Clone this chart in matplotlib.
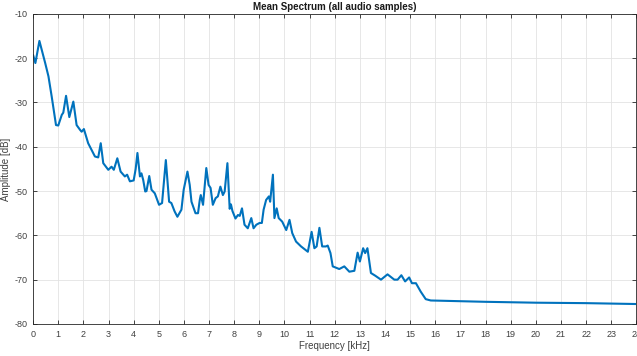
import matplotlib.pyplot as plt

# mean spectrum
freq_khz = [0.0, 0.09, 0.25, 0.48, 0.61, 0.74, 0.91, 1.0, 1.14, 1.2,
            1.31, 1.44, 1.6, 1.73, 1.87, 1.93, 2.02, 2.19, 2.46, 2.59,
            2.69, 2.79, 2.99, 3.12, 3.21, 3.35, 3.48, 3.65, 3.74, 3.85,
            4.0, 4.08, 4.15, 4.25, 4.31, 4.38, 4.46, 4.51, 4.62, 4.71,
            4.84, 4.91, 5.01, 5.13, 5.28, 5.41, 5.5, 5.63, 5.74, 5.9,
            5.99, 6.14, 6.23, 6.3, 6.46, 6.56, 6.63, 6.67, 6.76, 6.89,
            6.98, 7.06, 7.15, 7.26, 7.35, 7.45, 7.55, 7.62, 7.73, 7.82,
            7.87, 7.93, 8.05, 8.15, 8.22, 8.31, 8.41, 8.54, 8.68, 8.77,
            8.88, 9.01, 9.1, 9.17, 9.27, 9.38, 9.43, 9.54, 9.6, 9.69,
            9.77, 9.91, 10.07, 10.2, 10.31, 10.46, 10.66, 10.93, 11.08, 11.19,
            11.28, 11.39, 11.5, 11.65, 11.72, 11.83, 11.92, 12.18, 12.38, 12.58,
            12.78, 12.91, 13.0, 13.13, 13.21, 13.3, 13.44, 13.61, 13.84, 14.1,
            14.37, 14.5, 14.65, 14.8, 14.96, 15.07, 15.23, 15.42, 15.62, 15.82,
            16.5, 18.0, 20.0, 22.0, 24.0]
amp_db = [-19.3, -21.1, -16.1, -21.1, -24.1, -28.7, -35.1, -35.2, -32.8, -32.3,
          -28.5, -33.3, -29.8, -35.1, -36.2, -36.6, -36.0, -39.2, -42.2, -42.4,
          -39.2, -43.7, -45.2, -44.5, -45.2, -42.6, -45.6, -46.7, -46.3, -47.8,
          -47.6, -45.0, -41.4, -46.7, -46.0, -47.5, -50.1, -50.0, -46.6, -49.7,
          -50.5, -51.6, -53.1, -52.7, -43.0, -52.4, -52.7, -54.6, -55.8, -54.2,
          -49.7, -45.6, -48.6, -52.4, -55.0, -55.0, -52.0, -50.9, -53.1, -44.8,
          -48.6, -49.3, -53.1, -51.6, -51.2, -49.0, -50.9, -50.1, -43.7, -54.0,
          -53.0, -54.5, -56.2, -55.4, -55.6, -53.9, -57.6, -58.4, -56.1, -58.4,
          -57.6, -57.2, -57.2, -54.2, -52.0, -51.2, -52.4, -46.3, -56.1, -53.9,
          -56.1, -56.9, -58.8, -56.5, -59.5, -61.4, -62.5, -63.7, -59.2, -62.9,
          -62.5, -58.3, -62.5, -62.5, -62.3, -64.0, -67.0, -67.6, -67.0, -68.2,
          -68.0, -63.9, -65.9, -62.9, -64.0, -62.9, -68.5, -69.1, -70.0, -68.8,
          -70.0, -70.0, -69.0, -70.4, -69.5, -70.8, -70.8, -72.7, -74.4, -74.7,
          -74.8, -75.0, -75.2, -75.3, -75.5]

x_ticks = list(range(0, 25))
y_ticks = [-80, -70, -60, -50, -40, -30, -20, -10]

plt.rcParams['font.family'] = ['Liberation Sans', 'DejaVu Sans']
plt.rcParams['axes.unicode_minus'] = False
txt = '#404040'

fig = plt.figure(figsize=(6.37, 3.56), dpi=100)
ax = fig.add_axes([0.052, 0.09, 0.947, 0.871])

ax.plot(freq_khz, amp_db, color='#0072BD', linewidth=1.5,
        solid_joinstyle='round', solid_capstyle='round')

ax.set_xlim(0, 24)
ax.set_ylim(-80, -10)
ax.set_xticks(x_ticks)
ax.set_yticks(y_ticks)
ax.grid(True, color='#e3e3e3', linewidth=0.6)
ax.set_axisbelow(True)
ax.tick_params(direction='in', top=True, right=True, length=3, width=0.6,
               labelsize=6.5, colors='#262626', labelcolor=txt, pad=4)
for s in ax.spines.values():
    s.set_color('#262626')
    s.set_linewidth(0.6)

ax.set_xlabel('Frequency [kHz]', fontsize=7, color=txt, labelpad=2)
ax.set_ylabel('Amplitude [dB]', fontsize=7, color=txt)
ax.yaxis.set_label_coords(-0.036, 0.5)
ax.set_title('Mean Spectrum (all audio samples)', fontsize=7,
             fontweight='bold', color='#1a1a1a', pad=3)

fig.savefig('out.png', dpi=100)
